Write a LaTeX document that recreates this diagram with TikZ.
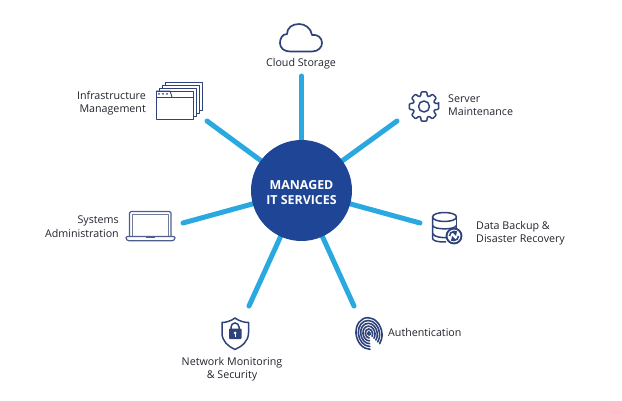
\documentclass[tikz,border=0pt]{standalone}
\usepackage{fontspec}
\setmainfont{Open Sans}
\usetikzlibrary{backgrounds}
\definecolor{hubblue}{HTML}{1F4597}
\definecolor{spokeblue}{HTML}{29A9E0}
\definecolor{icondark}{HTML}{2F4279}
\definecolor{labelgrey}{HTML}{22242E}
\tikzset{
  spoke/.style={draw=spokeblue,line width=5pt,line cap=round},
  icon/.style={draw=icondark,line width=1.5pt,line join=round},
  thinicon/.style={draw=icondark,line width=0.9pt,line join=round},
  ridge/.style={draw=icondark,line width=1.6pt,line cap=round},
  lbl/.style={text=labelgrey,inner sep=0pt,font=\fontsize{10.7}{13.5}\selectfont}
}
\begin{document}
\begin{tikzpicture}[x=1pt,y=-1pt]
\useasboundingbox (0,0) rectangle (622,401);
\node[circle,fill=hubblue,minimum size=101pt,inner sep=0pt] (hub) at (301.5,190.5) {};
\node[align=center,text=white,inner sep=0pt,font=\fontsize{12.4}{15}\selectfont\bfseries] (hubtext) at (301.5,193) {MANAGED\\IT SERVICES};
\coordinate (cloudend) at (301.5,76);
\coordinate (infraend) at (207,121);
\coordinate (serverend) at (397,121);
\coordinate (backupend) at (420,223);
\coordinate (authend) at (354,306);
\coordinate (networkend) at (249,306);
\coordinate (systemsend) at (183,223);
\begin{scope}[on background layer]
\path[spoke] (hub) -- (cloudend);
\path[spoke] (hub) -- (infraend);
\path[spoke] (hub) -- (serverend);
\path[spoke] (hub) -- (backupend);
\path[spoke] (hub) -- (authend);
\path[spoke] (hub) -- (networkend);
\path[spoke] (hub) -- (systemsend);
\end{scope}
\node[lbl] (cloud) at (301,64) {Cloud Storage};
\node[lbl,anchor=east,align=right] (infra) at (146,103) {Infrastructure\\Management};
\node[lbl,anchor=west,align=left] (server) at (448,105) {Server\\Maintenance};
\node[lbl,anchor=west,align=left] (backup) at (476,233) {Data Backup \&\\Disaster Recovery};
\node[lbl,anchor=west] (auth) at (388,332) {Authentication};
\node[lbl,align=center] (network) at (232,369) {Network Monitoring\\\& Security};
\node[lbl,anchor=east,align=right] (systems) at (119,226.5) {Systems\\Administration};
\path[icon,line width=1.7pt] (290,51.5) -- (312,51.5) .. controls (318.5,51.5) and (322,47) .. (322,43) .. controls (322,38) and (318,34) .. (312,35) .. controls (311,28) and (305,24) .. (299,24) .. controls (292,24) and (287,28) .. (287,34) .. controls (282,34) and (280,39) .. (280,43) .. controls (280,48) and (284,51.5) .. (290,51.5) -- cycle;
\foreach \k in {3,2,1,0}
  \path[thinicon,fill=white] (156+3.3*\k,91-3*\k) rectangle (193+3.3*\k,119-3*\k);
\path[thinicon] (156,97) -- (193,97);
\path[thinicon] (156,91) -- (170,91) -- (172,97);
\foreach \k in {159,163,167}
  \path[fill=icondark] (\k,94) circle[radius=1];
\begin{scope}[shift={(424,106.5)}]
\path[icon,rounded corners=1pt] (-11:15)
  \foreach \a in {0,45,...,315} { -- (\a-11:15) -- (\a+11:15) -- (\a+17:11) -- (\a+28:11) } -- cycle;
\path[icon] (0,0) circle[radius=5.5];
\end{scope}
\path[icon] (432.5,217) -- (432.5,238) .. controls (432.5,240.5) and (436,242) .. (446,242) ;
\path[icon] (456.5,217) -- (456.5,230);
\path[icon] (444.5,217) ellipse[x radius=12,y radius=4.5];
\path[icon] (432.5,225.5) .. controls (434,230) and (455,230) .. (456.5,225.5);
\path[icon] (432.5,233.5) .. controls (434,237) and (442,238) .. (447,237.5);
\path[icon,fill=white,line width=1.9pt] (454,236) circle[radius=7.5];
\path[draw=icondark,line width=1.6pt] (449.5,236) arc[start angle=180,end angle=300,radius=4.5];
\path[draw=icondark,line width=1.6pt] (458.5,236) arc[start angle=0,end angle=120,radius=4.5];
\path[fill=icondark] (452,232) -- (457,231) -- (456,236) -- cycle;
\path[fill=icondark] (456,240) -- (451,241) -- (452,236) -- cycle;
\begin{scope}[shift={(369,333.5)},rotate=12]
\foreach \r in {1.5,4,6.5,9,11.5,14}
  \path[ridge] ([shift={(100:{0.92*\r} and {1.14*\r})}]0,0) arc[start angle=100,end angle=410,x radius=0.92*\r,y radius=1.14*\r];
\end{scope}
\path[icon] (235,318) .. controls (239,321) and (244,322.5) .. (248.5,322.5) -- (248.5,333) .. controls (248.5,341) and (242,346.5) .. (235,349.5) .. controls (228,346.5) and (222,341) .. (222,333) -- (222,322.5) .. controls (226,322.5) and (231,321) .. (235,318) -- cycle;
\path[draw=icondark,line width=1.5pt] (231,329) -- (231,327) arc[start angle=180,end angle=360,radius=4] -- (239,329);
\path[fill=icondark,rounded corners=0.8pt] (229,328.5) rectangle (241.5,339);
\path[fill=white] (235.2,333) circle[radius=1.5];
\path[draw=white,line width=1pt] (235.2,333) -- (235.2,336.5);
\path[icon,line width=1.4pt,draw=icondark!85] (129.5,236) -- (129.5,213) -- (131,211.5) -- (169.5,211.5) -- (171,213) -- (171,236);
\path[thinicon,draw=icondark!70] (132.5,214.5) rectangle (168,236);
\path[icon,line width=1.2pt,draw=icondark!85,rounded corners=1.2pt] (126,236.5) -- (175,236.5) -- (175,239) -- (173,240.8) -- (128,240.8) -- (126,239) -- cycle;
\path[fill=icondark!85] (146,236.5) rectangle (155,238.3);
\end{tikzpicture}
\end{document}
